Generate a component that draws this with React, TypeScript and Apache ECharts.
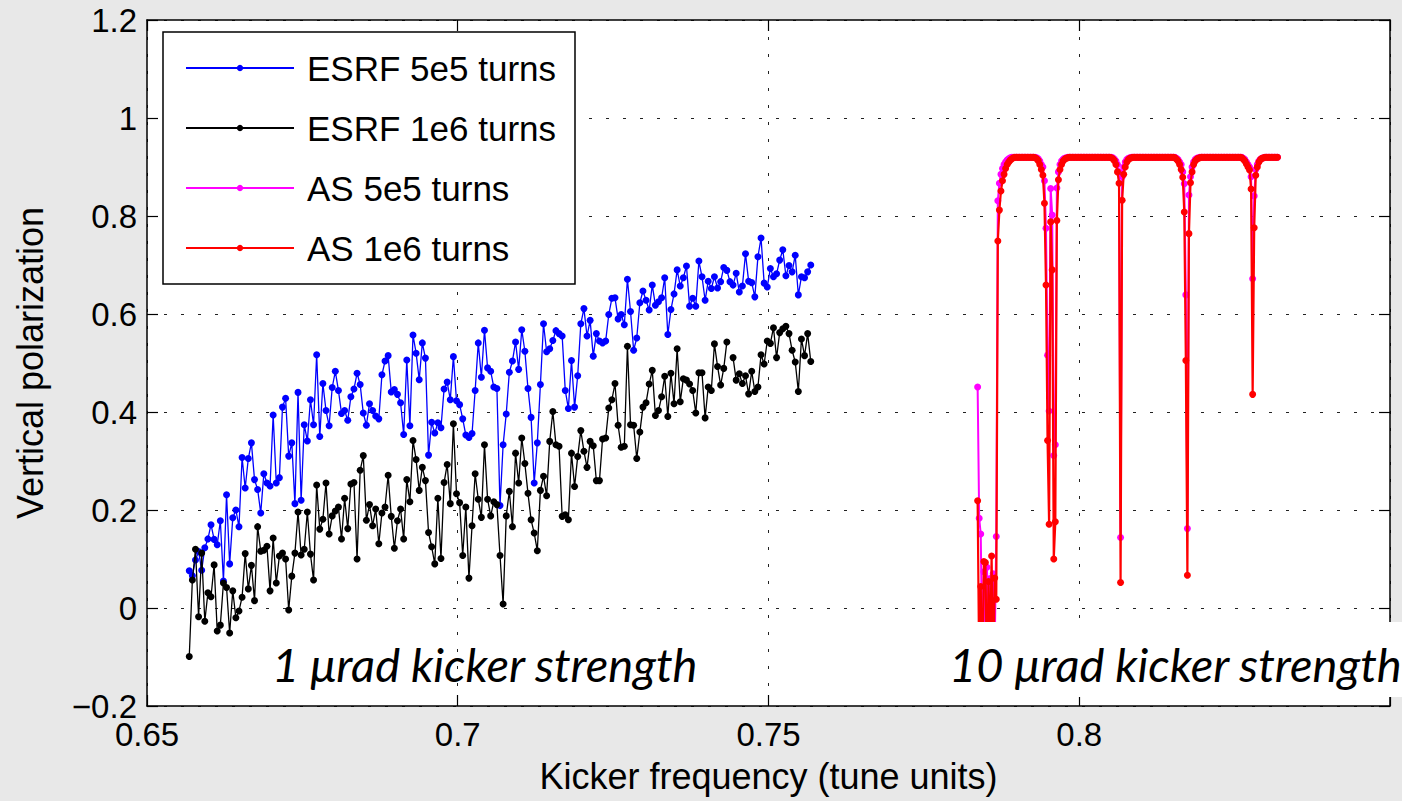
import React, { useEffect, useRef } from 'react';
import * as echarts from 'echarts';

// ---- data ----
const seriesNames = ['ESRF 5e5 turns', 'ESRF 1e6 turns', 'AS 5e5 turns', 'AS 1e6 turns'];
const seriesColors = ['#0000ff', '#000000', '#ff00ff', '#ff0000'];
const xTickLabels = [0.65, 0.7, 0.75, 0.8];
const annotations = ['1 \u03bcrad kicker strength', '10 \u03bcrad kicker strength'];

// ESRF scan grid (kicker frequency)
const esrfFreqStart = 0.6568;
const esrfFreqStep = 0.0005;

const esrf5e5 = [
  0.076, 0.066, 0.098, 0.115, 0.077, 0.123, 0.141, 0.17, 0.14, 0.129,
  0.178, 0.055, 0.231, 0.09, 0.184, 0.2, 0.166, 0.307, 0.245, 0.305,
  0.337, 0.262, 0.242, 0.194, 0.274, 0.255, 0.249, 0.394, 0.255, 0.266,
  0.41, 0.428, 0.31, 0.337, 0.213, 0.44, 0.22, 0.374, 0.341, 0.425,
  0.374, 0.517, 0.35, 0.458, 0.403, 0.372, 0.45, 0.483, 0.444, 0.397,
  0.403, 0.383, 0.431, 0.447, 0.479, 0.456, 0.398, 0.373, 0.417, 0.403,
  0.392, 0.386, 0.476, 0.504, 0.515, 0.441, 0.446, 0.436, 0.419, 0.354,
  0.506, 0.372, 0.557, 0.52, 0.466, 0.541, 0.51, 0.312, 0.379, 0.357,
  0.378, 0.368, 0.447, 0.461, 0.425, 0.513, 0.423, 0.415, 0.386, 0.353,
  0.348, 0.356, 0.444, 0.541, 0.471, 0.567, 0.49, 0.483, 0.451, 0.448,
  0.209, 0.333, 0.396, 0.481, 0.504, 0.543, 0.487, 0.568, 0.524, 0.448,
  0.389, 0.255, 0.337, 0.456, 0.58, 0.523, 0.529, 0.546, 0.566, 0.56,
  0.555, 0.444, 0.407, 0.505, 0.41, 0.474, 0.58, 0.611, 0.555, 0.587,
  0.514, 0.56, 0.545, 0.541, 0.545, 0.599, 0.632, 0.633, 0.59, 0.599,
  0.578, 0.671, 0.605, 0.526, 0.551, 0.623, 0.647, 0.628, 0.608, 0.659,
  0.618, 0.625, 0.633, 0.674, 0.558, 0.609, 0.641, 0.69, 0.657, 0.674,
  0.698, 0.616, 0.632, 0.616, 0.708, 0.676, 0.628, 0.667, 0.652, 0.676,
  0.653, 0.666, 0.695, 0.689, 0.666, 0.659, 0.683, 0.645, 0.657, 0.723,
  0.667, 0.664, 0.635, 0.717, 0.755, 0.663, 0.655, 0.693, 0.676, 0.682,
  0.71, 0.731, 0.678, 0.699, 0.686, 0.72, 0.639, 0.676, 0.674, 0.686,
  0.7,
];

const esrf1e6 = [
  -0.099, 0.057, 0.12, -0.018, 0.112, -0.027, 0.031, 0.023, 0.088, -0.047,
  -0.035, 0.051, 0.042, -0.051, 0.035, -0.02, -0.006, 0.022, 0.111, 0.039,
  0.087, 0.015, 0.166, 0.116, 0.118, 0.126, 0.035, 0.143, 0.051, 0.106,
  0.112, 0.1, -0.004, 0.065, 0.112, 0.196, 0.108, 0.12, 0.196, 0.11,
  0.057, 0.251, 0.161, 0.181, 0.255, 0.151, 0.188, 0.198, 0.206, 0.141,
  0.224, 0.162, 0.253, 0.256, 0.1, 0.281, 0.311, 0.179, 0.211, 0.168,
  0.202, 0.131, 0.194, 0.206, 0.271, 0.187, 0.122, 0.178, 0.202, 0.141,
  0.262, 0.217, 0.342, 0.303, 0.24, 0.287, 0.26, 0.154, 0.125, 0.09,
  0.224, 0.101, 0.256, 0.293, 0.213, 0.376, 0.233, 0.215, 0.107, 0.206,
  0.061, 0.168, 0.274, 0.222, 0.185, 0.333, 0.222, 0.188, 0.217, 0.211,
  0.107, 0.008, 0.188, 0.238, 0.166, 0.316, 0.255, 0.347, 0.295, 0.234,
  0.18, 0.153, 0.117, 0.24, 0.269, 0.229, 0.34, 0.401, 0.333, 0.33,
  0.187, 0.19, 0.18, 0.316, 0.248, 0.309, 0.362, 0.32, 0.287, 0.34,
  0.331, 0.26, 0.26, 0.345, 0.347, 0.408, 0.425, 0.458, 0.373, 0.328,
  0.33, 0.534, 0.374, 0.373, 0.305, 0.359, 0.41, 0.419, 0.457, 0.485,
  0.393, 0.403, 0.431, 0.473, 0.391, 0.479, 0.417, 0.529, 0.421, 0.468,
  0.465, 0.457, 0.444, 0.398, 0.48, 0.48, 0.388, 0.451, 0.444, 0.539,
  0.493, 0.455, 0.489, 0.543, null, 0.511, 0.465, 0.478, 0.458, 0.474,
  0.437, 0.483, 0.442, 0.451, 0.517, 0.498, 0.545, 0.54, 0.572, 0.511,
  0.562, 0.57, 0.575, 0.56, 0.526, 0.502, 0.442, 0.549, 0.515, 0.56,
  0.503,
];

// AS scan grid (kicker frequency)
const asFreqStart = 0.78365;
const asFreqStep = 0.00025;

const as5e5 = [
  0.451, 0.183, 0.151, -0.1, 0.074, -0.15, 0.083, -0.05, 0.06, -0.12,
  0.07, -0.08, 0.146,
  0.831, 0.867, 0.885, 0.897, 0.905, 0.91, 0.914, 0.917, 0.919,
  0.92, 0.92, 0.92, 0.92, 0.92, 0.92, 0.92, 0.92, 0.92, 0.92, 0.92, 0.92, 0.92, 0.92, 0.92, 0.92,
  0.919, 0.917, 0.912, 0.905, 0.9, 0.872, 0.775, 0.516, 0.402, 0.856,
  0.802, 0.311, 0.333, 0.857, 0.89, 0.905, 0.912, 0.916, 0.918, 0.919,
  0.92, 0.92, 0.92, 0.92, 0.92, 0.92, 0.92, 0.92, 0.92, 0.92,
  0.92, 0.92, 0.92, 0.92, 0.92, 0.92, 0.92, 0.92, 0.92, 0.92,
  0.92, 0.92, 0.92, 0.92, 0.92, 0.92, 0.92, 0.92, 0.92,
  0.919, 0.916, 0.912, 0.905, 0.89, 0.144, 0.88, 0.9, 0.91, 0.915, 0.918, 0.919,
  0.92, 0.92, 0.92, 0.92, 0.92, 0.92, 0.92, 0.92, 0.92, 0.92,
  0.92, 0.92, 0.92, 0.92, 0.92, 0.92, 0.92, 0.92, 0.92, 0.92,
  0.92, 0.92, 0.92, 0.92, 0.92, 0.92, 0.92, 0.92, 0.92,
  0.918, 0.915, 0.91, 0.905, 0.89, 0.866, 0.639, 0.162, 0.843, 0.88,
  0.9, 0.91, 0.915, 0.918, 0.919,
  0.92, 0.92, 0.92, 0.92, 0.92, 0.92, 0.92, 0.92, 0.92, 0.92,
  0.92, 0.92, 0.92, 0.92, 0.92, 0.92, 0.92, 0.92, 0.92, 0.92,
  0.92, 0.92, 0.92, 0.92, 0.92, 0.92, 0.92, 0.92,
  0.918, 0.915, 0.91, 0.905, 0.9, 0.88, 0.672, 0.841, 0.895, 0.905,
  0.912, 0.916, 0.918, 0.919,
  0.92, 0.92, 0.92, 0.92, 0.92, 0.92, 0.92, 0.92, 0.92,
];

const as1e6 = [
  0.219, -0.12, 0.044, -0.17, 0.095, 0.093, -0.15, 0.054, -0.1, 0.106,
  -0.16, 0.061, 0.018,
  0.749, 0.812, 0.851, 0.872, 0.885, 0.897, 0.905, 0.91, 0.914, 0.917, 0.919,
  0.92, 0.92, 0.92, 0.92, 0.92, 0.92, 0.92, 0.92, 0.92, 0.92, 0.92, 0.92, 0.92,
  0.919, 0.917, 0.913, 0.905, 0.895, 0.883, 0.826, 0.659, 0.342, 0.171,
  0.788, 0.69, 0.1, 0.176, 0.791, 0.874, 0.895, 0.905, 0.912, 0.916,
  0.918, 0.919,
  0.92, 0.92, 0.92, 0.92, 0.92, 0.92, 0.92, 0.92, 0.92, 0.92,
  0.92, 0.92, 0.92, 0.92, 0.92, 0.92, 0.92, 0.92, 0.92, 0.92,
  0.92, 0.92, 0.92, 0.92, 0.92, 0.92, 0.92,
  0.919, 0.917, 0.913, 0.905, 0.89, 0.867, 0.052, 0.832, 0.885, 0.9,
  0.91, 0.915, 0.918, 0.919,
  0.92, 0.92, 0.92, 0.92, 0.92, 0.92, 0.92, 0.92, 0.92, 0.92,
  0.92, 0.92, 0.92, 0.92, 0.92, 0.92, 0.92, 0.92, 0.92, 0.92,
  0.92, 0.92, 0.92, 0.92, 0.92, 0.92, 0.92,
  0.919, 0.916, 0.912, 0.905, 0.895, 0.879, 0.808, 0.505, 0.067, 0.764,
  0.868, 0.89, 0.905, 0.912, 0.916, 0.918, 0.919,
  0.92, 0.92, 0.92, 0.92, 0.92, 0.92, 0.92, 0.92, 0.92, 0.92,
  0.92, 0.92, 0.92, 0.92, 0.92, 0.92, 0.92, 0.92, 0.92, 0.92,
  0.92, 0.92, 0.92, 0.92, 0.92, 0.92,
  0.919, 0.916, 0.912, 0.906, 0.9, 0.894, 0.855, 0.436, 0.776, 0.883,
  0.9, 0.91, 0.915, 0.918, 0.919,
  0.92, 0.92, 0.92, 0.92, 0.92, 0.92, 0.92, 0.92, 0.92,
];

// ---- helpers ----
function toPairs(start: number, step: number, ys: (number | null)[]) {
  return ys.map((y, i) => [parseFloat((start + step * i).toFixed(6)), y === null ? '-' : y]);
}

function fmtNum(v: number): string {
  const r = parseFloat(Math.abs(v).toFixed(3));
  if (Math.abs(v) < 1e-9) return '0';
  return (v < 0 ? '\u2212' : '') + String(r);
}

const FONT = '"Liberation Sans", Arial, Helvetica, sans-serif';
const NOTE_FONT = 'Lato, "Open Sans", sans-serif';

export default function App() {
  const ref = useRef<HTMLDivElement>(null);

  useEffect(() => {
    if (!ref.current) return;
    const chart = echarts.init(ref.current, undefined, { renderer: 'svg' });

    const gridLine = { show: true, lineStyle: { color: '#222', width: 1, type: [3, 14] as any } };
    const axisLine = { show: true, onZero: false, lineStyle: { color: '#000', width: 1.5 } };
    const tick = { show: true, inside: true, length: 11, lineStyle: { color: '#000', width: 1.2 } };

    const mkSeries = (idx: number, data: any[], lineWidth: number, symbolSize: number) => ({
      name: seriesNames[idx],
      type: 'line',
      data,
      xAxisIndex: 0,
      yAxisIndex: 0,
      symbol: 'circle',
      symbolSize,
      showSymbol: true,
      showAllSymbol: true,
      connectNulls: false,
      itemStyle: { color: seriesColors[idx] },
      lineStyle: { color: seriesColors[idx], width: lineWidth },
      emphasis: { disabled: true },
      z: 2 + idx,
    });

    const option: any = {
      animation: false,
      backgroundColor: '#e8e8e8',
      grid: {
        left: 147, top: 20, width: 1243, height: 686,
        show: true, backgroundColor: '#ffffff', borderWidth: 0,
      },
      xAxis: [
        {
          type: 'value', min: 0.65, max: 0.85, interval: 0.05, position: 'bottom',
          axisLine, axisTick: tick, splitLine: gridLine,
          axisLabel: {
            color: '#000', fontSize: 33, fontFamily: FONT, margin: 15, lineHeight: 26,
            formatter: (v: number) => (xTickLabels.some((t) => Math.abs(t - v) < 1e-9) ? fmtNum(v) : ''),
          },
          name: 'Kicker frequency (tune units)', nameLocation: 'middle', nameGap: 52,
          nameTextStyle: { color: '#000', fontSize: 36, fontFamily: FONT },
        },
        {
          type: 'value', min: 0.65, max: 0.85, interval: 0.05, position: 'top',
          axisLine, axisTick: tick, splitLine: { show: false }, axisLabel: { show: false },
        },
      ],
      yAxis: [
        {
          type: 'value', min: -0.2, max: 1.2, interval: 0.2, position: 'left',
          axisLine, axisTick: tick, splitLine: gridLine,
          axisLabel: {
            color: '#000', fontSize: 33, fontFamily: FONT, margin: 10, lineHeight: 24,
            formatter: (v: number) => fmtNum(v),
          },
          name: 'Vertical polarization', nameLocation: 'middle', nameGap: 99,
          nameTextStyle: { color: '#000', fontSize: 36, fontFamily: FONT },
        },
        {
          type: 'value', min: -0.2, max: 1.2, interval: 0.2, position: 'right',
          axisLine, axisTick: tick, splitLine: { show: false }, axisLabel: { show: false },
        },
      ],
      legend: {
        left: 163, top: 32, orient: 'vertical',
        data: seriesNames,
        itemWidth: 108, itemHeight: 8, itemGap: 20,
        padding: [16, 19, 16, 22],
        backgroundColor: '#ffffff', borderColor: '#000', borderWidth: 1.5,
        textStyle: { fontSize: 35, fontFamily: FONT, color: '#000', lineHeight: 40, padding: [0, 0, 0, 8] },
        selectedMode: false,
        z: 20,
      },
      series: [
        mkSeries(0, toPairs(esrfFreqStart, esrfFreqStep, esrf5e5), 1.3, 7),
        mkSeries(1, toPairs(esrfFreqStart, esrfFreqStep, esrf1e6), 1.3, 7),
        mkSeries(2, toPairs(asFreqStart, asFreqStep, as5e5), 2, 7),
        mkSeries(3, toPairs(asFreqStart, asFreqStep, as1e6), 2.2, 7),
      ],
      graphic: [
        {
          type: 'text', x: 272, y: 664, z: 100,
          style: {
            text: annotations[0], fill: '#000', fontSize: 47, fontStyle: 'italic',
            fontFamily: NOTE_FONT, verticalAlign: 'middle', align: 'left',
          },
        },
        {
          type: 'rect', z: 100,
          shape: { x: 935, y: 622, width: 467, height: 75 },
          style: { fill: '#ffffff' },
        },
        {
          type: 'text', x: 949, y: 664, z: 101,
          style: {
            text: annotations[1], fill: '#000', fontSize: 47, fontStyle: 'italic',
            fontFamily: NOTE_FONT, verticalAlign: 'middle', align: 'left',
          },
        },
      ],
    };

    chart.setOption(option);
    return () => chart.dispose();
  }, []);

  return <div ref={ref} style={{ position: 'absolute', left: 0, top: 0, width: 1402, height: 801 }} />;
}
